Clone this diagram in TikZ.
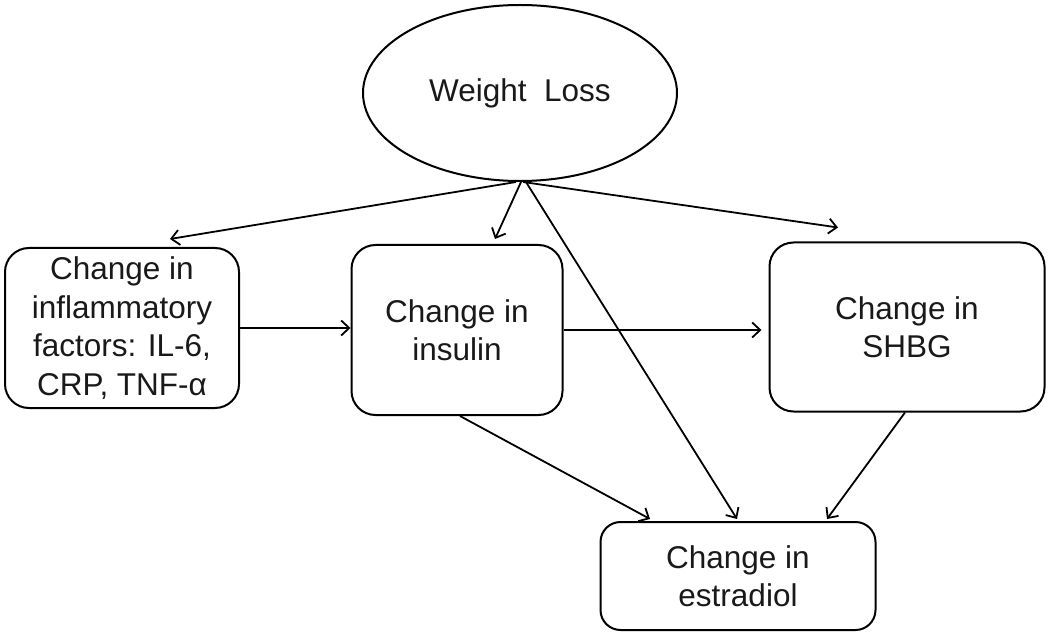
\documentclass[tikz,border=0pt]{standalone}
\usepackage{fontspec}
\setmainfont{Liberation Sans}
\usetikzlibrary{shapes.geometric,arrows.meta}
\begin{document}
\begin{tikzpicture}[x=1pt,y=-1pt,
  every node/.style={font=\fontsize{31.5}{38.5}\selectfont, align=center, text=black!90},
  box/.style={draw, line width=2pt, rounded corners=24pt, inner sep=0pt},
  arr/.style={line width=1.8pt, -{Straight Barb[length=8pt,width=15pt,line width=1.8pt]}}]
\useasboundingbox (0,0) rectangle (1050,636);
\node[draw, ellipse, line width=2pt, minimum width=314pt, minimum height=176pt, inner sep=0pt] (wl) at (520,93) {Weight\ \ Loss};
\node[box, minimum width=234pt, minimum height=160pt] (inf) at (122,328) {\raisebox{-3pt}{\parbox{230pt}{\centering Change in\\inflammatory\\factors: IL-6,\\CRP, TNF-α}}};
\node[box, minimum width=211pt, minimum height=170pt] (ins) at (457,330) {Change in\\insulin};
\node[box, minimum width=275pt, minimum height=169pt] (shbg) at (907,327) {Change in\\SHBG};
\node[box, rounded corners=20pt, minimum width=275pt, minimum height=108pt] (est) at (738,576) {Change in\\estradiol};
\draw[arr] ([xshift=-4pt]wl.south) -- ([xshift=48pt,yshift=8pt]inf.north);
\draw[arr] ([xshift=1pt]wl.south) -- ([xshift=38pt,yshift=5pt]ins.north);
\draw[arr] ([xshift=3pt]wl.south) -- ([xshift=-69pt,yshift=14pt]shbg.north);
\draw[arr] ([xshift=6pt]wl.south) -- ([xshift=-1pt,yshift=2pt]est.north);
\draw[arr] (inf.east) -- (inf.east -| ins.west);
\draw[arr] (ins.east) -- ([xshift=-7pt]ins.east -| shbg.west);
\draw[arr] ([xshift=3pt]ins.south) -- ([xshift=-88pt,yshift=2pt]est.north);
\draw[arr] ([xshift=-2pt]shbg.south) -- ([xshift=89pt,yshift=2pt]est.north);
\end{tikzpicture}
\end{document}
